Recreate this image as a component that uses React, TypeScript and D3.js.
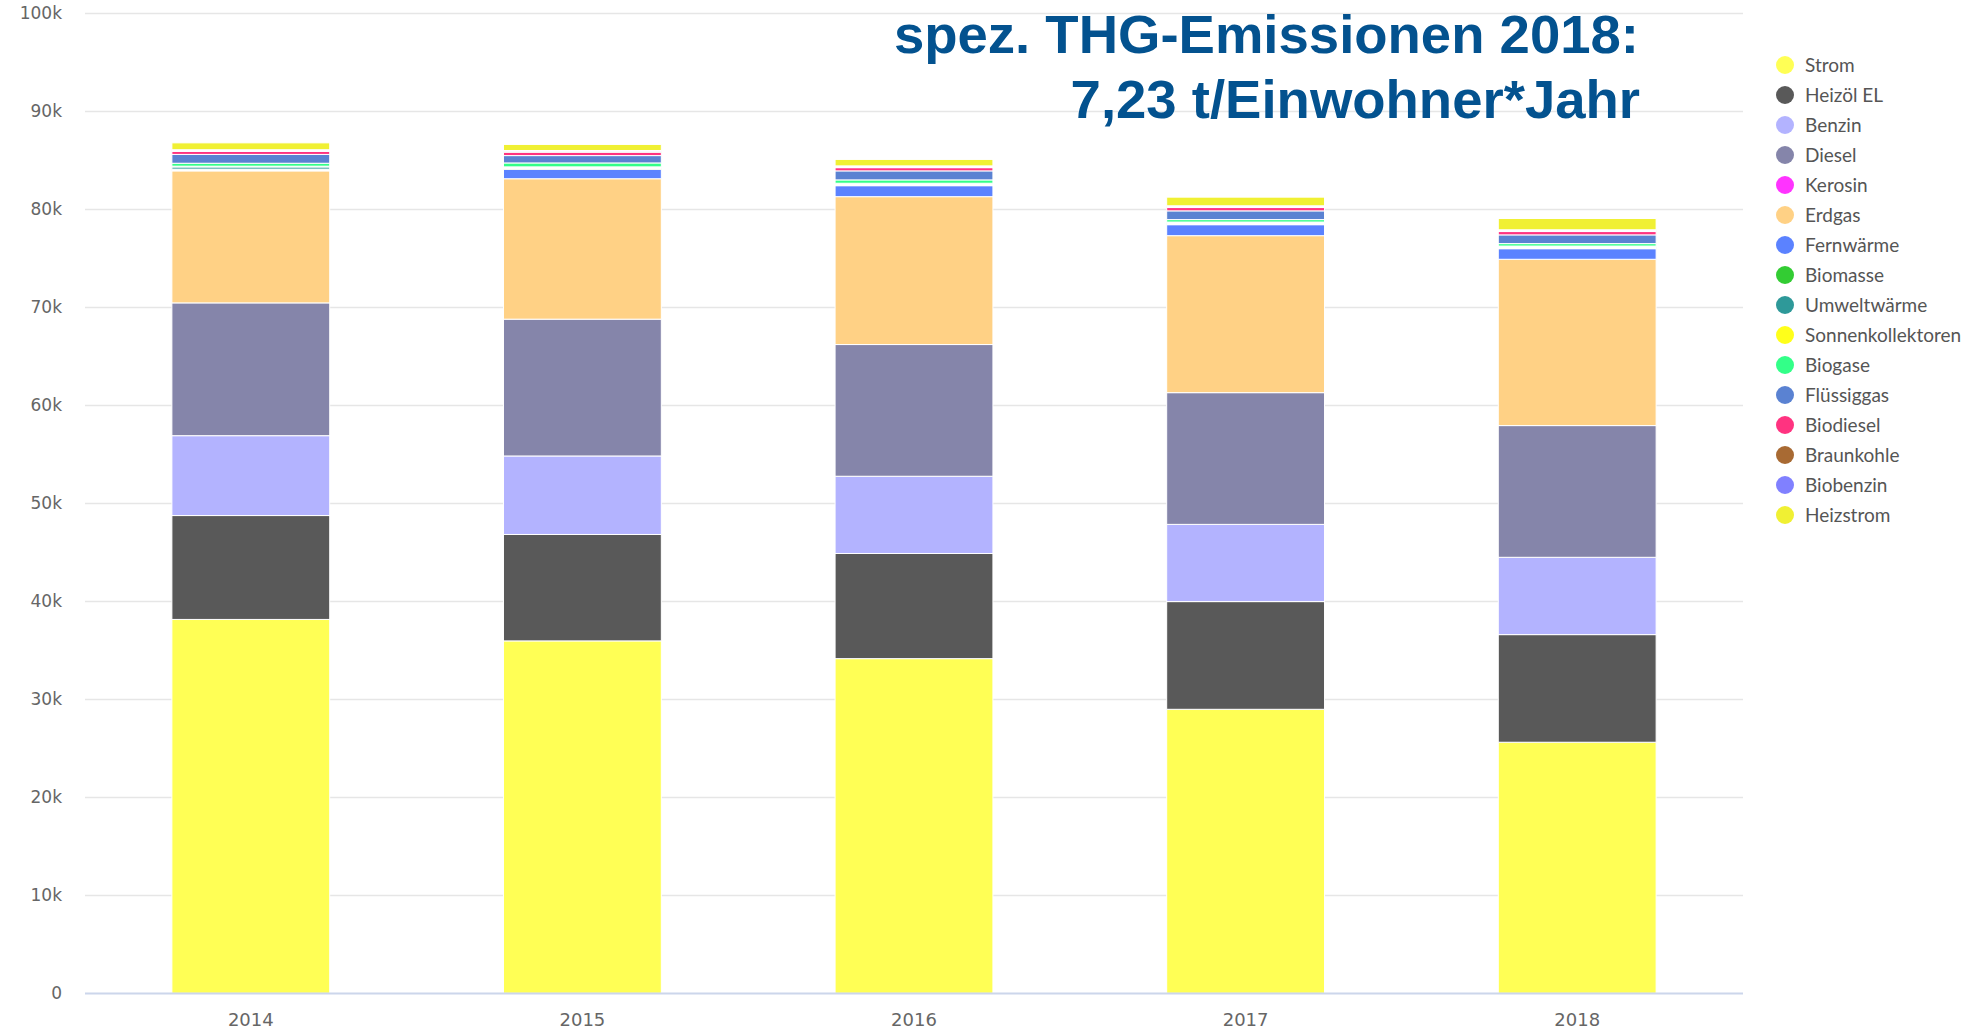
import React, { useRef, useEffect } from "react";
import * as d3 from "d3";

// years on the x axis
const years = ["2014", "2015", "2016", "2017", "2018"];

// energy sources, bottom of the stack first (same as legend order)
const sources = [
  "Strom",
  "Heizöl EL",
  "Benzin",
  "Diesel",
  "Kerosin",
  "Erdgas",
  "Fernwärme",
  "Biomasse",
  "Umweltwärme",
  "Sonnenkollektoren",
  "Biogase",
  "Flüssiggas",
  "Biodiesel",
  "Braunkohle",
  "Biobenzin",
  "Heizstrom",
];

const colors = [
  "#ffff55",
  "#595959",
  "#b3b3ff",
  "#8585aa",
  "#ff33ff",
  "#ffd185",
  "#5b82ff",
  "#33cc33",
  "#2e9999",
  "#ffff1a",
  "#33ff88",
  "#5a82d2",
  "#ff3380",
  "#a86a33",
  "#8080ff",
  "#f0f033",
];

// t CO2 per year, one array per source (2014..2018)
const strom = [38150, 35960, 34150, 28980, 25620];
const heizoel = [10600, 10860, 10730, 10990, 10980];
const benzin = [8150, 8010, 7880, 7880, 7890];
const diesel = [13550, 13960, 13440, 13440, 13440];
const kerosin = [0, 0, 0, 0, 0];
const erdgas = [13470, 14330, 15090, 16020, 16970];
const fernwaerme = [90, 960, 1120, 1120, 1080];
const biomasse = [90, 80, 80, 90, 90];
const umweltwaerme = [220, 90, 90, 90, 90];
const sonnenkollektoren = [80, 80, 80, 90, 90];
const biogase = [300, 400, 340, 250, 250];
const fluessiggas = [900, 750, 920, 890, 890];
const biodiesel = [300, 340, 330, 340, 340];
const braunkohle = [90, 90, 90, 90, 90];
const biobenzin = [90, 90, 90, 90, 90];
const heizstrom = [700, 620, 660, 880, 1150];

const seriesValues = [
  strom,
  heizoel,
  benzin,
  diesel,
  kerosin,
  erdgas,
  fernwaerme,
  biomasse,
  umweltwaerme,
  sonnenkollektoren,
  biogase,
  fluessiggas,
  biodiesel,
  braunkohle,
  biobenzin,
  heizstrom,
];

const yTicks = [0, 10000, 20000, 30000, 40000, 50000, 60000, 70000, 80000, 90000, 100000];

function App() {
  const svgRef = useRef();

  useEffect(() => {
    const w = 1986;
    const h = 1031;
    const svg = d3.select(svgRef.current).attr("width", w).attr("height", h);
    svg.selectAll("*").remove();

    // rows for d3.stack
    const rows = years.map((year, i) => {
      const row = { year };
      sources.forEach((s, j) => (row[s] = seriesValues[j][i]));
      return row;
    });

    const x = d3
      .scaleBand()
      .domain(years)
      .range([85, 1743])
      .paddingInner(0.524)
      .paddingOuter(0.262);
    const y = d3.scaleLinear().domain([0, 100000]).range([993.3, 13.3]);

    // grid lines
    svg
      .append("g")
      .selectAll("line")
      .data(yTicks.filter((t) => t > 0))
      .enter()
      .append("line")
      .attr("x1", 85)
      .attr("x2", 1743)
      .attr("y1", (d) => Math.round(y(d)) + 0.5)
      .attr("y2", (d) => Math.round(y(d)) + 0.5)
      .attr("stroke", "#e6e6e6")
      .attr("stroke-width", 1.5);

    // y labels
    svg
      .append("g")
      .selectAll("text")
      .data(yTicks)
      .enter()
      .append("text")
      .attr("x", 62)
      .attr("y", (d) => y(d))
      .attr("dy", "0.36em")
      .attr("text-anchor", "end")
      .attr("font-family", "DejaVu Sans, Verdana, sans-serif")
      .attr("font-size", 17)
      .attr("fill", "#666666")
      .text((d) => (d === 0 ? "0" : d / 1000 + "k"));

    // stacked bars
    const stacked = d3.stack().keys(sources)(rows);
    svg
      .append("g")
      .selectAll("g")
      .data(stacked)
      .enter()
      .append("g")
      .attr("fill", (d, i) => colors[i])
      .selectAll("rect")
      .data((d) => d)
      .enter()
      .append("rect")
      .attr("x", (d) => x(d.data.year))
      .attr("width", x.bandwidth())
      .attr("y", (d) => y(d[1]))
      .attr("height", (d) => Math.max(0, y(d[0]) - y(d[1])))
      .attr("stroke", "#ffffff")
      .attr("stroke-width", 1);

    // x axis line
    svg
      .append("line")
      .attr("x1", 85)
      .attr("x2", 1743)
      .attr("y1", 993.5)
      .attr("y2", 993.5)
      .attr("stroke", "#ccd6eb")
      .attr("stroke-width", 2);

    // x labels
    svg
      .append("g")
      .selectAll("text")
      .data(years)
      .enter()
      .append("text")
      .attr("x", (d) => x(d) + x.bandwidth() / 2)
      .attr("y", 1026)
      .attr("text-anchor", "middle")
      .attr("font-family", "DejaVu Sans, Verdana, sans-serif")
      .attr("font-size", 18)
      .attr("fill", "#666666")
      .text((d) => d);

    // legend
    const legend = svg
      .append("g")
      .selectAll("g")
      .data(sources)
      .enter()
      .append("g")
      .attr("transform", (d, i) => `translate(1785, ${65 + i * 30})`);
    legend
      .append("circle")
      .attr("r", 9)
      .attr("fill", (d, i) => colors[i]);
    legend
      .append("text")
      .attr("x", 20)
      .attr("dy", "0.36em")
      .attr("font-family", "Lato, sans-serif")
      .attr("font-size", 19)
      .attr("fill", "#555555")
      .text((d) => d);

    // big title
    const title = svg
      .append("g")
      .attr("font-family", "Liberation Sans, Arial, sans-serif")
      .attr("font-weight", "bold")
      .attr("font-size", 54.5)
      .attr("fill", "#03528f")
      .attr("text-anchor", "end");
    title.append("text").attr("x", 1639).attr("y", 53).text("spez. THG-Emissionen 2018:");
    title.append("text").attr("x", 1640).attr("y", 118).text("7,23 t/Einwohner*Jahr");
  }, []);

  return (
    <div style={{ position: "absolute", left: 0, top: 0 }}>
      <svg ref={svgRef} style={{ display: "block" }}></svg>
    </div>
  );
}

export default App;
